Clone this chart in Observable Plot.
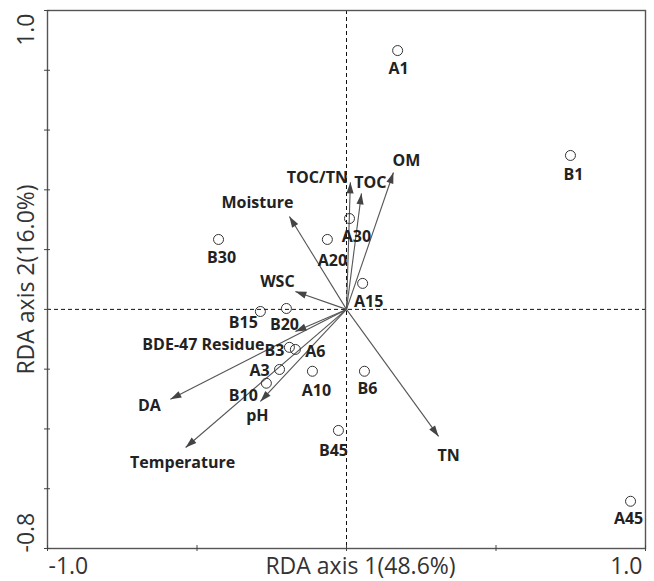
<!DOCTYPE html>
<html><head><meta charset="utf-8">
<script src="https://cdn.jsdelivr.net/npm/d3@7"></script>
<script src="https://cdn.jsdelivr.net/npm/@observablehq/plot@0.6"></script>
<style>body{margin:0;background:#fff}#chart svg{display:block}</style>
</head><body><div id="chart"></div>
<script>
// ---- data ----
const sampleNames = ["A1","B1","A45","B30","A30","A20","A15","B15","B20","B3","A6","A3","B10","A10","B6","B45"];
const sampleX = [0.171, 0.749, 0.950, -0.428, 0.010, -0.064, 0.054, -0.288, -0.201, -0.191, -0.171, -0.224, -0.268, -0.114, 0.060, -0.027];
const sampleY = [0.866, 0.515, -0.642, 0.234, 0.304, 0.234, 0.087, -0.007, 0.003, -0.127, -0.134, -0.201, -0.247, -0.207, -0.207, -0.405];

const envNames = ["TOC/TN","TOC","OM","Moisture","WSC","BDE-47 Residue","DA","pH","Temperature","TN"];
const envX = [0.013, 0.050, 0.157, -0.191, -0.171, -0.171, -0.589, -0.288, -0.538, 0.308];
const envY = [0.425, 0.388, 0.458, 0.311, 0.060, -0.074, -0.301, -0.308, -0.462, -0.425];

const xTickValues = [-1, -0.5, 0, 0.5, 1];
const yTickValues = [-0.8, -0.6, -0.4, -0.2, 0, 0.2, 0.4, 0.6, 0.8, 1.0];
const xEndLabels = ["-1.0", "1.0"];
const yEndLabels = ["-0.8", "1.0"];
const xTitle = "RDA axis 1(48.6%)";
const yTitle = "RDA axis 2(16.0%)";

// ---- layout (pixel offsets of labels) ----
const sampleLabelOffset = {
  A1:[1,18], B1:[3,19], A45:[-2,18], B30:[3,18], A30:[7,18], A20:[5,21], A15:[6,18],
  B15:[-17,11], B20:[-2,16], B3:[-15,4], A6:[20,2], A3:[-20,1], B10:[-23,13],
  A10:[4,20], B6:[3,18], B45:[-5,20]
};
const envLabelOffset = {
  "TOC/TN":[-33,-4], "TOC":[9,-11], "OM":[13,-12], "Moisture":[-32,-14], "WSC":[-18,-10],
  "BDE-47 Residue":[-92,13], "DA":[-21,7], "pH":[-3,14], "Temperature":[-3,15], "TN":[10,19]
};

const samples = sampleNames.map((n,i)=>({name:n, x:sampleX[i], y:sampleY[i]}));
const envs = envNames.map((n,i)=>({name:n, x:envX[i], y:envY[i]}));

const arrowHead = {
  draw(ctx) { ctx.moveTo(0,0); ctx.lineTo(-3.6,11); ctx.lineTo(3.6,11); ctx.closePath(); }
};

const labelFont = {fontFamily:"Open Sans", fontWeight:"bold", fontSize:16, fill:"#222"};
const axisFont = {fontFamily:"Open Sans", fontSize:23, fill:"#333"};

const chart = Plot.plot({
  width: 654, height: 581,
  marginLeft: 47, marginRight: 9, marginTop: 10, marginBottom: 33,
  x: {domain:[-1,1], axis:null},
  y: {domain:[-0.8,1], axis:null},
  style: {background:"#fff"},
  marks: [
    Plot.ruleX([0], {stroke:"#111", strokeWidth:1, strokeDasharray:"4,3"}),
    Plot.ruleY([0], {stroke:"#111", strokeWidth:1, strokeDasharray:"4,3"}),
    Plot.frame({stroke:"#555", strokeWidth:1.4}),
    Plot.ruleX(xTickValues, {x:d=>d, y1:()=>-0.8, y2:()=>-0.8, insetTop:-3, insetBottom:-3, stroke:"#444"}),
    Plot.ruleY(yTickValues, {y:d=>d, x1:()=>-1, x2:()=>-1, insetLeft:-3, insetRight:-3, stroke:"#444"}),
    Plot.link(envs, {x1:()=>0, y1:()=>0, x2:"x", y2:"y", stroke:"#555", strokeWidth:1.1}),
    Plot.dot(envs, {x:"x", y:"y", symbol:arrowHead, fill:"#444", stroke:"none",
      rotate: d => Math.atan2(d.x, d.y) * 180 / Math.PI}),
    Plot.dot(samples, {x:"x", y:"y", r:5, stroke:"#333", strokeWidth:1, fill:"none"}),
    ...samples.map(d => Plot.text([d], {x:"x", y:"y", text:"name",
      dx:sampleLabelOffset[d.name][0], dy:sampleLabelOffset[d.name][1], ...labelFont})),
    ...envs.map(d => Plot.text([d], {x:"x", y:"y", text:"name",
      dx:envLabelOffset[d.name][0], dy:envLabelOffset[d.name][1], ...labelFont})),
    Plot.text([xEndLabels[0]], {x:()=>-1, y:()=>-0.8, text:d=>d, textAnchor:"start", lineAnchor:"middle", dx:1, dy:18, ...axisFont}),
    Plot.text([xEndLabels[1]], {x:()=>1, y:()=>-0.8, text:d=>d, textAnchor:"end", lineAnchor:"middle", dx:-3, dy:18, ...axisFont}),
    Plot.text([yEndLabels[0]], {x:()=>-1, y:()=>-0.8, text:d=>d, rotate:-90, textAnchor:"start", lineAnchor:"middle", dx:-21, dy:4, ...axisFont}),
    Plot.text([yEndLabels[1]], {x:()=>-1, y:()=>1, text:d=>d, rotate:-90, textAnchor:"end", lineAnchor:"middle", dx:-21, dy:3, ...axisFont}),
    Plot.text([xTitle], {frameAnchor:"bottom", text:d=>d, textAnchor:"middle", lineAnchor:"middle", dx:14, dy:18, ...axisFont}),
    Plot.text([yTitle], {frameAnchor:"left", text:d=>d, rotate:-90, textAnchor:"middle", lineAnchor:"middle", dx:-21, dy:0, ...axisFont})
  ]
});
document.getElementById("chart").appendChild(chart);
</script>
</body></html>
